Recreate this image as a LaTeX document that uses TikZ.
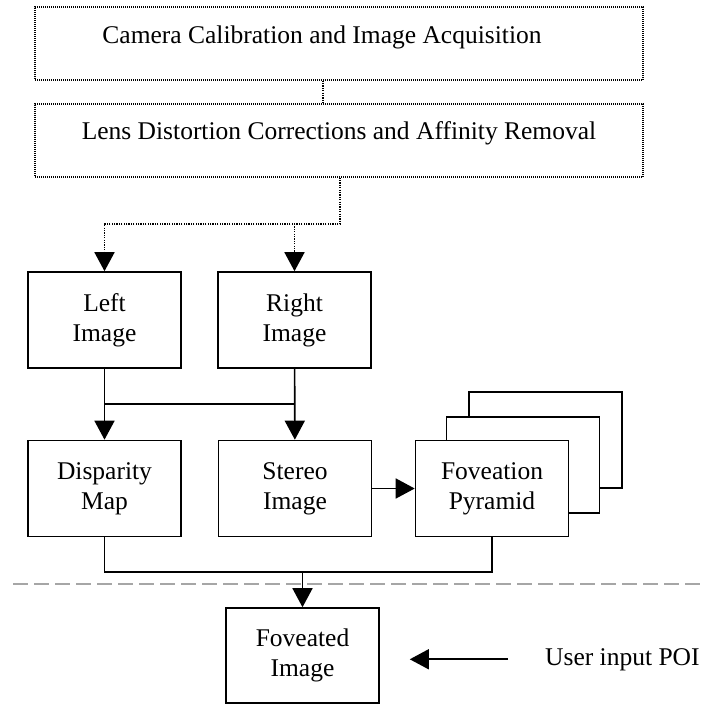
\documentclass[tikz,border=0pt]{standalone}
\usepackage{fontspec}
\setmainfont{Liberation Serif}
\usetikzlibrary{arrows.meta}
\begin{document}
\begin{tikzpicture}[x=1pt,y=-1pt,
        txt/.style={font=\fontsize{25.5}{30}\selectfont,inner sep=0pt},
        box/.style={draw,line width=1.6pt,fill=white,minimum width=153pt,minimum height=96pt,align=center,txt},
        dotbox/.style={draw,line width=1.1pt,dash pattern=on 1pt off 1pt,minimum width=608pt,minimum height=73pt,inner sep=0pt},
        dotline/.style={line width=1.5pt,dash pattern=on 1.2pt off 1.2pt},
        line/.style={line width=1.6pt},
        arr/.style={line width=1.6pt,-{Triangle[length=19pt,width=20pt]}}]
        \colorlet{sep}{black!35}
        \useasboundingbox (0,0) rectangle (703,704);
        % preprocessing
        \node[dotbox,label={[txt,xshift=-17pt,yshift=6pt]center:Camera Calibration and Image Acquisition}] (calib) at (339,43.5) {};
        \node[dotbox,label={[txt,yshift=7pt]center:Lens Distortion Corrections and Affinity Removal}] (lens) at (339,140.5) {};
        \draw[dotline] (calib.south -| 323,0) -- (lens.north -| 323,0);
        % image pair
        \node[box] (left) at (104.5,320) {Left\\Image};
        \node[box] (right) at (294.5,320) {Right\\Image};
        \draw[dotline,arr] (lens.south -| 340,0) -- (340,224) -| (left.north);
        \draw[dotline,arr] (right.north |- 0,224) -- (right.north);
        % processing
        \node[box] (disp) at (104.5,488.5) {Disparity\\Map};
        \node[box] (stereo) at (295,488.5) {Stereo\\Image};
        \node[box] (fovback) at (545.5,440) {};
        \node[box] (fovmid) at (523,465) {};
        \node[box] (fov) at (492,488.5) {Foveation\\Pyramid};
        \draw[arr] (left) -- (disp);
        \draw[arr] (right) -- (stereo);
        \draw[line] (left.south |- 0,404) -- (right.south |- 0,404);
        \draw[arr] (stereo) -- (fov);
        % output
        \node[box,minimum height=95pt] (fovd) at (302.5,655.5) {Foveated\\Image};
        \node[txt,anchor=base west] (poi) at (545,665) {User input POI};
        \draw[sep,line width=2pt,dash pattern=on 15pt off 6pt] (13,584) -- (703,584);
        \draw[line] (disp.south) -- (disp.south |- 0,572) -- (fov.south |- 0,572) -- (fov.south);
        \draw[arr] (fovd.north |- 0,572) -- (fovd.north);
        \draw[arr,shorten <=37pt,shorten >=30pt] (poi.west) -- (fovd.east |- poi.west);
    \end{tikzpicture}
\end{document}
